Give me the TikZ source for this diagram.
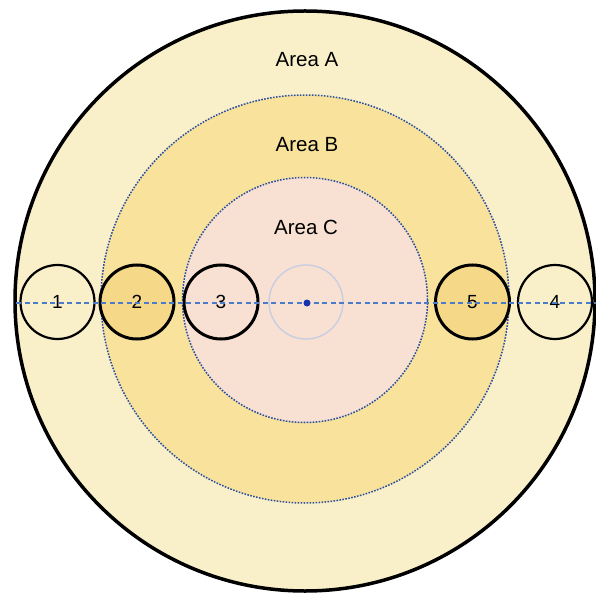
\documentclass[tikz,border=0pt]{standalone}
\usepackage{fontspec}
\setmainfont{Liberation Sans}
\definecolor{areaA}{HTML}{F9F0CA}
\definecolor{areaB}{HTML}{F8E29C}
\definecolor{areaC}{HTML}{F8E0D2}
\definecolor{ringblue}{HTML}{2A4FA0}
\definecolor{axisblue}{HTML}{4A7CC8}
\definecolor{hub}{HTML}{C5CCE3}
\definecolor{dotblue}{HTML}{1434B0}
\definecolor{probe}{HTML}{F5D888}
\begin{document}
\begin{tikzpicture}[x=1pt,y=-1pt,
  zone/.style={circle,inner sep=0pt,minimum size=#1},
  zoneedge/.style={draw=ringblue,line width=1.5pt,dash pattern=on 1.6pt off 1.4pt},
  probe/.style={circle,inner sep=0pt,minimum size=74pt,draw=black,font=\fontsize{19}{19}\selectfont},
  thin/.style={line width=2.2pt},
  thick/.style={line width=3pt},
  arealabel/.style={font=\fontsize{20.5}{20.5}\selectfont}]
\useasboundingbox (0,0) rectangle (596,593);
\fill[white] (0,0) rectangle (596,593);
% areas
\node[zone=580pt,fill=areaA,draw=black,line width=3.5pt] (A) at (305,301) {};
\node[zone=408pt,fill=areaB,zoneedge] (B) at (305,299) {};
\node[zone=245pt,fill=areaC,zoneedge] (C) at (305,300) {};
% center hub
\node[zone=74pt,draw=hub,line width=1.3pt] (hub) at (306,302) {};
% probes
\node[probe,thin,fill=areaA] (p1) at (57.5,302) {1};
\node[probe,thick,fill=probe] (p2) at (137,302) {2};
\node[probe,thick,fill=areaC] (p3) at (221,302) {3};
\node[probe,thick,fill=probe] (p5) at (472.5,302) {5};
\node[probe,thin,fill=areaA] (p4) at (555,302) {4};
% axis
\coordinate (axL) at (16,303);
\coordinate (axR) at (596,303);
\draw[axisblue,line width=1.4pt,dash pattern=on 5pt off 3.5pt] (axL) -- (axR);
\node[circle,fill=dotblue,inner sep=0pt,minimum size=7pt] (dot) at (307,303) {};
% labels
\node[arealabel] (la) at (307,60) {Area A};
\node[arealabel] (lb) at (307,145) {Area B};
\node[arealabel] (lc) at (306,227) {Area C};
\end{tikzpicture}
\end{document}
